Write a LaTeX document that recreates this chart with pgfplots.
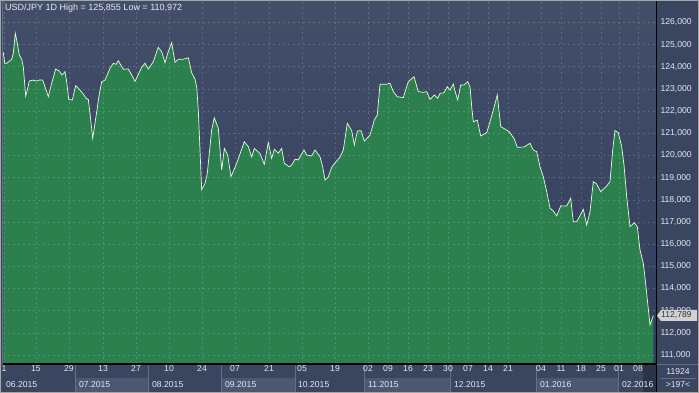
\documentclass[border=0pt]{standalone}
\usepackage{pgfplots}
\pgfplotsset{compat=1.18}
\usepackage{pgfplotstable}
\usepackage{fontspec}
\setmainfont{Liberation Sans}
\definecolor{bgdark}{RGB}{58,69,96}
\definecolor{plottop}{RGB}{67,79,105}
\definecolor{plotbot}{RGB}{50,60,92}
\definecolor{boxlight}{RGB}{76,88,114}
\definecolor{areagreen}{RGB}{44,128,78}
\definecolor{linecol}{RGB}{225,255,220}
\definecolor{txt}{RGB}{228,232,242}
\definecolor{sepcol}{RGB}{100,112,138}
\pgfplotstableread{
x v
3.3 124.65
4.7 124.16
6.7 124.16
11.7 124.34
13.3 124.61
15.3 125.51
16.7 125.21
19.3 124.53
21.7 124.34
23.3 124.00
25.7 122.68
27.3 122.95
29.3 123.36
33.3 123.40
36.7 123.36
39.3 123.40
42.7 123.40
45 123.10
48.3 122.65
51.7 123.26
55.7 123.90
59.3 123.81
62 123.63
65 123.78
66.7 123.33
68.7 122.53
72.3 122.50
75.7 123.15
79 123.00
83.3 122.77
86 122.58
88.3 122.53
90 121.90
92.7 120.77
96.7 121.97
99 122.68
101.7 123.33
105 123.40
110 123.93
113.3 124.16
116 124.11
118.3 124.27
123.3 123.89
128.3 123.90
132.7 123.55
135 123.34
141.7 123.98
145 124.16
148.3 123.90
153.3 124.23
158.3 124.88
161.7 124.68
165 124.18
167.7 124.61
171.7 125.09
175 124.20
178.3 124.34
183.3 124.34
188.3 124.41
191.7 123.73
195 123.44
196.7 123.10
198.3 122.05
200 120.25
201.7 118.44
205 118.74
207.3 119.20
210 120.40
211.7 121.15
214.3 121.70
218.3 121.23
221.7 119.34
224.3 120.32
227.7 120.02
231 119.04
236.7 119.65
244.3 120.62
248.3 120.40
251.7 119.94
254.3 120.32
260 120.09
264.3 119.60
268.3 120.58
271.7 119.87
274.3 120.28
278.3 120.10
281.7 120.32
284.3 119.65
289.3 119.49
291.7 119.57
295 119.83
298.3 119.80
304 120.25
306.7 120.02
311.7 119.98
315 120.25
320 119.94
322.7 119.49
325 118.89
328.3 119.04
331.7 119.47
336 119.72
340 119.92
343.3 120.25
347.3 121.45
351.7 121.12
354.3 120.47
357.3 121.10
361 121.12
364.3 120.65
370 120.92
374.3 121.60
377.3 121.83
380 123.21
386.7 123.21
390 123.26
393.3 122.88
397.3 122.65
403.3 122.61
408.3 123.33
414 123.55
418.3 122.88
422.7 122.85
426.7 122.88
430 122.53
434.3 122.73
437.7 122.58
440 122.80
444 122.83
447.3 123.10
450 122.95
453.3 123.22
455.7 122.80
457.7 122.50
460.7 123.18
464 123.18
467.7 123.33
470 123.10
471.7 122.20
473.3 121.52
477.3 121.60
480.7 120.88
486.7 121.03
490 121.52
493.3 122.05
497.3 122.73
500.7 121.30
505 121.19
509.3 121.07
514 120.77
517.3 120.37
524 120.38
530 120.55
533.3 120.25
536.7 120.17
540 119.49
543.3 119.04
546.7 118.37
550 117.62
553.3 117.50
556.7 117.27
560.7 117.73
566.7 117.72
570.7 118.07
573.3 117.01
576.7 117.01
583.3 117.57
586.7 116.86
590 117.46
593.3 118.82
596.7 118.71
600.7 118.37
606 118.59
610 118.82
612.7 120.25
615 121.12
618.3 121.03
621.7 120.40
624 119.57
626.7 118.14
630 116.79
634.3 116.97
637.3 116.79
640 115.74
643.3 115.14
646 114.08
650 112.35
653.3 112.78
}\usdjpy
\begin{document}
\begin{tikzpicture}
\useasboundingbox (0pt,0pt) rectangle (699pt,393pt);
\begin{scope}[x=1pt,y=1pt]
\fill[bgdark] (0,0) rectangle (699,393);
% month boxes in bottom strip
\fill[boxlight] (76,1) rectangle (148,15);
\fill[boxlight] (221,1) rectangle (295,15);
\fill[boxlight] (364,1) rectangle (450,15);
\fill[boxlight] (536,1) rectangle (618,15);
\fill[black,opacity=0.25] (643,1) rectangle (656,29);
\foreach \s in {75.5,148.5,221.5,295.5,364.5,450.5,536.5,618.5}{
  \draw[sepcol,line width=0.8pt] (\s,1) -- (\s,29);
}
\end{scope}
\begin{axis}[
  at={(3pt,29pt)}, anchor=south west,
  scale only axis, width=653pt, height=363pt,
  xmin=3, xmax=656, ymin=110.594, ymax=126.968,
  axis background/.style={shade, top color=plottop, bottom color=plotbot},
  axis line style={draw=none},
  axis on top,
  major tick length=0pt,
  xtick={4,36,69,103,136,169,202,235,269,302,335,368,388,408,428,448,468,488,508,541,561,581,601,619,638},
  xticklabels={1,15,29,13,27,10,24,07,21,05,19,02,09,16,23,30,07,14,21,04,11,18,25,01,08},
  ytick={111,112,...,126},
  yticklabel pos=right,
  yticklabel style={anchor=west, xshift=1pt, font=\fontsize{8.6}{9}\selectfont, text=txt},
  xticklabel style={anchor=north, yshift=-0.5pt, inner sep=1pt, font=\fontsize{8.6}{9}\selectfont, text=txt},
  /pgf/number format/.cd, fixed, fixed zerofill, precision=3, use comma, 1000 sep={}, assume math mode=true,
  /pgfplots/.cd,
  grid=major,
  major grid style={white, opacity=0.16, dash pattern=on 2pt off 3pt, line width=0.6pt},
  clip=true,
]
\addplot[fill=areagreen, draw=none] table[x=x,y=v] {\usdjpy} \closedcycle;
\addplot[linecol, line width=0.7pt] table[x=x,y=v] {\usdjpy};
\end{axis}
\begin{scope}[x=1pt,y=1pt]
% axis frame lines
\draw[black, line width=1.2pt] (656.6,1) -- (656.6,392);
\draw[black, line width=1.2pt] (3,29) -- (656.6,29);
\draw[sepcol, line width=1pt] (2.5,29) -- (2.5,392);
% title
\node[anchor=west, inner sep=0pt, text=txt, font=\fontsize{9}{10}\selectfont] at (5,385) {USD/JPY 1D High = 125,855 Low = 110,972};
% month labels
\begin{scope}[every node/.style={anchor=west, inner sep=0pt, text=txt, font=\fontsize{8.6}{9}\selectfont}]
\node at (6,8.5) {06.2015};
\node at (79,8.5) {07.2015};
\node at (152,8.5) {08.2015};
\node at (225,8.5) {09.2015};
\node at (298,8.5) {10.2015};
\node at (368,8.5) {11.2015};
\node at (454,8.5) {12.2015};
\node at (540,8.5) {01.2016};
\node at (622,8.5) {02.2016};
\end{scope}
% price tag
\fill[black!18!white] (657,77.5) -- (661,83) -- (697,83) -- (697,72) -- (661,72) -- cycle;
\node[anchor=west, inner sep=0pt, text=black!80, font=\fontsize{8.6}{9}\selectfont] at (661,77.5) {112,789};
% bottom right counters
\node[text=txt, inner sep=0pt, font=\fontsize{8.6}{9}\selectfont] at (678,21) {11924};
\draw[sepcol] (661,15) -- (696,15);
\node[text=txt, inner sep=0pt, font=\fontsize{8.6}{9}\selectfont] at (678,8) {>197<};
\draw[sepcol] (657,29) -- (699,29);
\draw[black!35!white, line width=1pt] (0.5,0.5) rectangle (698.5,392.5);
\end{scope}
\end{tikzpicture}
\end{document}
